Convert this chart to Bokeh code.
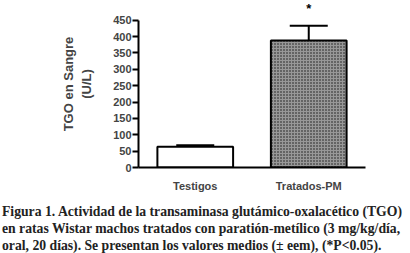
from bokeh.plotting import figure
from bokeh.models import FactorRange, Range1d, Whisker, ColumnDataSource, TeeHead, FixedTicker, Div
from bokeh.layouts import column
from bokeh.core.properties import value
from bokeh.embed import file_html
from bokeh.resources import INLINE

# data
groups = ["Testigos", "Tratados-PM"]
means = [63, 388]
errors = [5, 45]
y_ticks = [0, 50, 100, 150, 200, 250, 300, 350, 400, 450]
y_label = "TGO en Sangre\n(U/L)"
caption_lines = [
    "Figura 1. Actividad de la transaminasa glutámico-oxalacético (TGO)",
    "en ratas Wistar machos tratados con paratión-metílico (3 mg/kg/día,",
    "oral, 20 días). Se presentan los valores medios (± eem), (*P&lt;0.05).",
]
sig_marks = ["", "*"]

upper = [m + e for m, e in zip(means, errors)]
src = ColumnDataSource(dict(g=groups, m=means, up=upper, fill=["white", "#989898"],
                            hatch=[" ", "dot"], star=sig_marks))

p = figure(x_range=FactorRange(*groups, range_padding=0), y_range=Range1d(0, 510),
           width=410, height=194, output_backend="svg", toolbar_location=None,
           min_border_left=138, min_border_right=45, min_border_top=0, min_border_bottom=0)
p.outline_line_color = None
p.grid.visible = False
p.background_fill_color = "white"

p.vbar(x="g", top="m", width=0.667, source=src, fill_color="fill", line_color="black",
       line_width=2, hatch_pattern="hatch", hatch_color="#151515", hatch_scale=3, hatch_weight=1.5)

w = Whisker(base="g", lower="m", upper="up", source=src, level="underlay",
            line_color="black", line_width=2,
            upper_head=TeeHead(size=38, line_color="black", line_width=2), lower_head=None)
p.add_layout(w)

p.text(x="g", y="up", text="star", source=src, text_align="center", text_baseline="middle",
       y_offset=-17, text_font=value("Liberation Sans"), text_font_size="13px", text_font_style="bold",
       text_color="black")

ya = p.yaxis[0]
ya.ticker = FixedTicker(ticks=y_ticks)
ya.bounds = (0, 450)
ya.axis_line_width = 2
ya.major_tick_line_width = 2
ya.major_tick_out = 6
ya.major_tick_in = 0
ya.minor_tick_line_color = None
ya.major_label_text_font = "Liberation Sans"
ya.major_label_text_font_style = "bold"
ya.major_label_text_font_size = "11px"
ya.major_label_standoff = 1
ya.axis_label = y_label
ya.axis_label_text_font = "Liberation Sans"
ya.axis_label_text_font_style = "bold"
ya.axis_label_text_font_size = "13px"
ya.axis_label_standoff = 16

xa = p.xaxis[0]
xa.axis_line_width = 2
xa.major_tick_line_color = None
xa.minor_tick_line_color = None
xa.major_label_text_font = "Liberation Sans"
xa.major_label_text_font_style = "bold"
xa.major_label_text_font_size = "11px"
xa.major_label_standoff = 6

div = Div(text="<br>".join(caption_lines), width=406, height=50, margin=(9, 0, 0, 2),
          styles={"font-family": "Liberation Serif", "font-weight": "bold", "font-size": "13.7px",
                  "line-height": "17px", "color": "#222", "white-space": "nowrap"})

layout = column(p, div, spacing=0)
open("out.html", "w").write(file_html(layout, INLINE))
